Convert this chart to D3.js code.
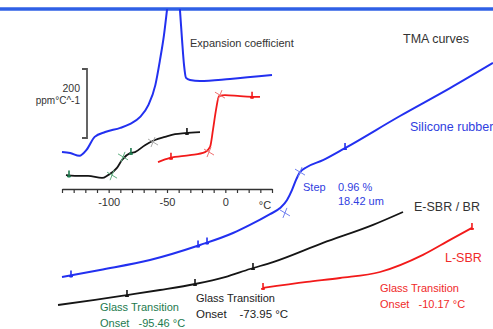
<!DOCTYPE html>
<html>
<head>
<meta charset="utf-8">
<script src="https://cdn.jsdelivr.net/npm/d3@7"></script>
<style>
  body { margin: 0; background: #fff; }
  svg { display: block; font-family: Arial, "Liberation Sans", sans-serif; }
</style>
</head>
<body>
<div id="canvas"></div>
<script>
// temperature ticks of the shared axis
let axisTicks = d3.range(-140, 41, 10);
let axisLabels = [-100, -50, 0];

// inset: expansion coefficient (temp, ppm/°C)
let insetSilicone = [[-140, 110], [-133, 107], [-125, 99], [-119, 116], [-112, 154], [-103, 168], [-90, 180],
    [-82, 191], [-73, 212], [-66, 246], [-60, 304], [-56, 377], [-52.6, 449], [-50, 522], [-46, 640],
    [-42, 640], [-38.9, 522], [-37.1, 435], [-35.4, 362], [-33.7, 325], [-30.3, 319], [-21.7, 316],
    [4, 322], [40, 333]];
let insetEsbr = [[-136.6, 43], [-128.9, 41], [-117.7, 41], [-105.7, 35], [-100.6, 43], [-92.9, 64],
    [-88.6, 87], [-81.7, 107], [-77.4, 110], [-68.9, 130], [-60.3, 145], [-51.7, 154], [-43.1, 162],
    [-34.6, 165], [-21.7, 168]];
let insetLsbr = [[-57.7, 81], [-47.4, 93], [-30.3, 101], [-17.4, 110], [-13.1, 125], [-10.6, 174],
    [-8, 232], [-5.4, 272], [-0.3, 275], [12.6, 272], [25.4, 270], [29.7, 270]];

// main: TMA curves (temp, length change, arbitrary units)
let tmaSilicone = [[-140, 14.3], [-107.4, 16.7], [-64.6, 20], [-21.7, 25], [6.6, 29], [21.1, 31.7],
    [38.3, 35.3], [46.9, 37.3], [52.9, 40], [57.1, 43.3], [60.6, 46.7], [64, 49.3], [70, 51],
    [83.7, 53.3], [102.6, 57.3], [149.7, 68], [192.6, 77.3], [229.4, 85.7]];
let tmaEsbr = [[-143.4, 5], [-111.7, 6.7], [-84.3, 8.3], [-56, 10], [-26, 12], [-0.3, 14.3], [21.1, 17],
    [40.9, 19.3], [83.7, 25.7], [126.6, 31.7], [152.3, 36]];
let tmaLsbr = [[32.3, 10.7], [70, 12.7], [98.3, 14], [132.6, 16], [169.4, 21.7], [192.6, 26.7], [211.4, 30.7]];

// evaluation marks (temperatures)
let insetEsbrMarks = [-32.9];
let insetEsbrOnsetMarks = [-134, -80.9];
let insetLsbrMarks = [-46.6, 22.9];
let tmaSiliconeMarks = [-132.3, -23.4, -15.7, 102.6];
let tmaEsbrMarks = [-84.3, -26, 23.7];
let tmaLsbrMarks = [32.3, 211.4];

// tangent crossings
let insetCrosses = [[-4.6, 275, "#f07070"], [-14, 110, "#f07070"], [-97.1, 43, "#5fae7f"],
    [-87.7, 96, "#5fae7f"], [-62, 139, "#aaa"]];
let tmaCrosses = [[64, 49.3], [51.1, 35.7]];

var width = 493, height = 329;
var blue = "#2230f0", red = "#f21a1a", black = "#151515", green = "#1d7a4e";

var svg = d3.select("#canvas")
    .append("svg")
    .attr("width", width)
    .attr("height", height);

var x = d3.scaleLinear().domain([-140, 40]).range([62, 272]);
var yIn = d3.scaleLinear().domain([0, 200]).range([190, 121]);
var yTma = d3.scaleLinear().domain([0, 100]).range([320, 20]);

svg.append("defs").append("clipPath").attr("id", "clip")
    .append("rect").attr("x", 0).attr("y", 9).attr("width", width).attr("height", height);

// blue band at top
svg.append("line")
    .attr("x1", 0).attr("x2", width).attr("y1", 9).attr("y2", 9)
    .attr("stroke", "#2f60e6").attr("stroke-width", 3.5);

function interp(series, t) {
    for (let i = 1; i < series.length; i++) {
        if (t <= series[i][0]) {
            let a = series[i - 1], b = series[i];
            return a[1] + (b[1] - a[1]) * (t - a[0]) / (b[0] - a[0]);
        }
    }
    return series[series.length - 1][1];
}

function drawCurve(series, yScale, color, w) {
    var line = d3.line()
        .x(d => x(d[0]))
        .y(d => yScale(d[1]))
        .curve(d3.curveMonotoneX);
    svg.append("path")
        .datum(series)
        .attr("clip-path", "url(#clip)")
        .attr("fill", "none")
        .attr("stroke", color)
        .attr("stroke-width", w)
        .attr("stroke-linejoin", "round")
        .attr("d", line);
}

function drawMarks(series, marks, yScale, color) {
    var g = svg.append("g").attr("stroke", color).attr("stroke-width", 1.6);
    marks.forEach(t => {
        let px = x(t), py = yScale(interp(series, t));
        g.append("line").attr("x1", px).attr("x2", px).attr("y1", py - 5).attr("y2", py + 2);
        g.append("line").attr("x1", px - 2).attr("x2", px + 2).attr("y1", py + 1).attr("y2", py + 1);
    });
}

function drawCross(px, py, color) {
    svg.append("path")
        .attr("d", `M${px - 5},${py - 3}L${px + 5},${py + 3}M${px - 2},${py + 5}L${px + 2},${py - 5}`)
        .attr("stroke", color).attr("stroke-width", 1).attr("fill", "none");
}

// axis
var xAxis = d3.axisBottom(x)
    .tickValues(axisTicks)
    .tickSize(4)
    .tickSizeOuter(0)
    .tickFormat(d => axisLabels.includes(d) ? d : "");

svg.append("g")
    .attr("transform", "translate(0,189)")
    .call(xAxis)
    .call(g => g.select(".domain").attr("stroke", "#333").attr("stroke-width", 1.6))
    .call(g => g.selectAll(".tick line").attr("stroke", "#333").attr("stroke-width", 1.2))
    .call(g => g.selectAll(".tick text").attr("font-size", 11).attr("fill", "#333")
        .attr("font-family", "Arial, 'Liberation Sans', sans-serif").attr("dy", "0.9em"));

svg.append("text").attr("x", x(34)).attr("y", 209).attr("text-anchor", "middle")
    .attr("font-size", 11).attr("fill", "#333").text("°C");

// scale bracket
svg.append("path")
    .attr("d", `M82,${yIn(400)}H87V${yIn(200)}H82`)
    .attr("transform", `translate(0,${69 - yIn(400)})`)
    .attr("stroke", "#555").attr("stroke-width", 1.8).attr("fill", "none");
svg.append("text").attr("x", 80).attr("y", 92).attr("text-anchor", "end")
    .attr("font-size", 10.5).attr("fill", "#333").text("200");
svg.append("text").attr("x", 80).attr("y", 104).attr("text-anchor", "end")
    .attr("font-size", 10).attr("fill", "#333").text("ppm°C^-1");

// inset curves
drawCurve(insetSilicone, yIn, blue, 2);
drawCurve(insetLsbr, yIn, red, 1.8);
drawCurve(insetEsbr, yIn, black, 1.8);
drawMarks(insetLsbr, insetLsbrMarks, yIn, red);
drawMarks(insetEsbr, insetEsbrMarks, yIn, black);
drawMarks(insetEsbr, insetEsbrOnsetMarks, yIn, green);
insetCrosses.forEach(c => drawCross(x(c[0]), yIn(c[1]), c[2]));

// main TMA curves
drawCurve(tmaSilicone, yTma, blue, 2);
drawCurve(tmaEsbr, yTma, black, 1.8);
drawCurve(tmaLsbr, yTma, red, 1.8);
drawMarks(tmaSilicone, tmaSiliconeMarks, yTma, blue);
drawMarks(tmaEsbr, tmaEsbrMarks, yTma, black);
drawMarks(tmaLsbr, tmaLsbrMarks, yTma, red);
tmaCrosses.forEach(c => drawCross(x(c[0]), yTma(c[1]), "#7080f0"));

// labels: text, x, y, colour, size
var labels = [
    ["Expansion coefficient", 190, 47, "#333", 11],
    ["TMA curves", 403, 43, "#333", 12.5],
    ["Silicone rubber", 410, 131, "#3040e0", 12.5],
    ["Step", 303, 191, "#3040e0", 11],
    ["0.96 %", 338, 191, "#3040e0", 11],
    ["18.42 um", 338, 205, "#3040e0", 11],
    ["E-SBR / BR", 414, 211, "#333", 12.5],
    ["L-SBR", 445, 262, "#f02a2a", 12.5],
    ["Glass Transition", 380, 292, "#f02a2a", 11],
    ["Onset   -10.17 °C", 380, 308, "#f02a2a", 11],
    ["Glass Transition", 196, 302, "#222", 11],
    ["Onset    -73.95 °C", 196, 318, "#222", 11.5],
    ["Glass Transition", 100, 311, green, 11],
    ["Onset   -95.46 °C", 100, 327, green, 11]
];

svg.selectAll("text.lbl")
    .data(labels)
    .join("text")
    .attr("class", "lbl")
    .attr("x", d => d[1])
    .attr("y", d => d[2])
    .attr("fill", d => d[3])
    .attr("font-size", d => d[4])
    .style("white-space", "pre")
    .text(d => d[0]);
</script>
</body>
</html>
